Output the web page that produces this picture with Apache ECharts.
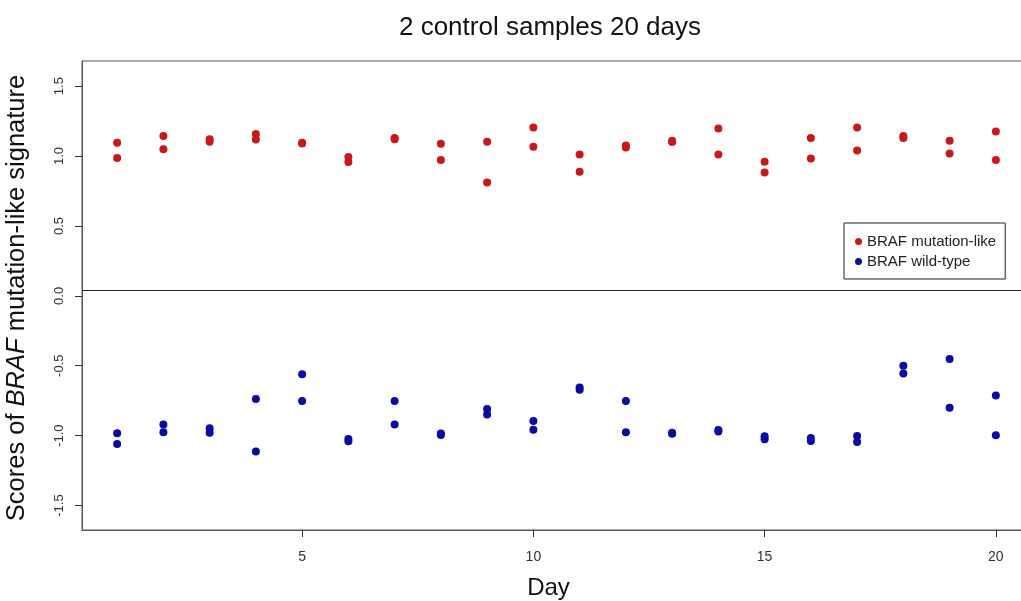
<!DOCTYPE html>
<html>
<head>
<meta charset="utf-8">
<script src="https://cdn.jsdelivr.net/npm/echarts@6/dist/echarts.min.js"></script>
<style>html,body{margin:0;padding:0;background:#fff}#c{width:1021px;height:601px}</style>
</head>
<body>
<div id="c"></div>
<script>
const days = [1,2,3,4,5,6,7,8,9,10,11,12,13,14,15,16,17,18,19,20];
const mutationA = [1.095,1.143,1.120,1.157,1.095,0.993,1.130,1.088,1.102,1.205,1.012,1.075,1.110,1.198,0.960,1.129,1.205,1.143,1.110,1.176];
const mutationB = [0.986,1.048,1.102,1.119,1.090,0.957,1.120,0.971,0.810,1.067,0.888,1.062,1.100,1.012,0.883,0.983,1.040,1.130,1.019,0.971];
const wildA = [-0.983,-0.921,-0.948,-0.738,-0.560,-1.024,-0.752,-0.985,-0.810,-0.895,-0.655,-0.752,-0.980,-0.960,-1.005,-1.017,-1.002,-0.500,-0.452,-0.712];
const wildB = [-1.060,-0.976,-0.979,-1.114,-0.752,-1.040,-0.921,-0.995,-0.848,-0.957,-0.671,-0.976,-0.986,-0.971,-1.026,-1.038,-1.045,-0.555,-0.800,-0.998];
const yTicks = [-1.5,-1.0,-0.5,0.0,0.5,1.0,1.5];
const xTicks = [5,10,15,20];
const seriesNames = ['BRAF mutation-like','BRAF wild-type'];

const font = 'Liberation Sans, Arial, sans-serif';
const mutData = [];
const wildData = [];
days.forEach((d,i)=>{
  mutData.push([d, mutationA[i]]); mutData.push([d, mutationB[i]]);
  wildData.push([d, wildA[i]]); wildData.push([d, wildB[i]]);
});

const chart = echarts.init(document.getElementById('c'), null, {renderer:'canvas'});
chart.setOption({
  animation:false,
  backgroundColor:'#ffffff',
  title:{text:'2 control samples 20 days', left:545, top:10, textAlign:'center',
    textStyle:{fontFamily:font, fontSize:26, fontWeight:'normal', color:'#111'}},
  grid:{left:82, top:61, bottom:71, right:-10, show:true, borderColor:'#555', borderWidth:1,
    containLabel:false, outerBoundsMode:'none'},
  legend:{orient:'vertical', left:844, top:223, data:seriesNames,
    borderColor:'#222', borderWidth:1, padding:[11,9,10,11], itemGap:5,
    icon:'circle', itemWidth:7, itemHeight:7,
    textStyle:{fontFamily:font, fontSize:15, color:'#222'}},
  xAxis:{type:'value', min:0.24, max:20.76,
    name:'Day', nameLocation:'middle', nameGap:46,
    nameTextStyle:{fontFamily:font, fontSize:24, color:'#111', padding:[0,16,0,0]},
    axisLine:{show:true, onZero:false, lineStyle:{color:'#555'}},
    axisTick:{show:true, length:7, customValues:xTicks, lineStyle:{color:'#333'}},
    axisLabel:{customValues:xTicks, margin:20, fontFamily:font, fontSize:14, color:'#333'},
    splitLine:{show:false}},
  yAxis:{type:'value', min:-1.675, max:1.68,
    axisLine:{show:true, onZero:false, lineStyle:{color:'#555'}},
    axisTick:{show:true, length:7, customValues:yTicks, lineStyle:{color:'#333'}},
    axisLabel:{customValues:yTicks, rotate:90, margin:16, fontFamily:font, fontSize:13, color:'#333',
      formatter:v=>v.toFixed(1)},
    splitLine:{show:false}},
  graphic:[{type:'text', rotation:Math.PI/2, x:17, y:298,
    style:{rich:{n:{fontFamily:font, fontSize:25.5, fill:'#111'}, i:{fontFamily:font, fontSize:25.5, fontStyle:'italic', fill:'#111'}},
      text:'{n|Scores of }{i|BRAF}{n| mutation-like signature}', align:'center', verticalAlign:'middle'}}],
  series:[
    {name:seriesNames[0], type:'scatter', data:mutData, symbol:'circle', symbolSize:8,
      itemStyle:{color:'#c81818', opacity:1},
      markLine:{silent:true, symbol:'none', label:{show:false},
        lineStyle:{color:'#222', type:'solid', width:1}, data:[{yAxis:0.045}]}},
    {name:seriesNames[1], type:'scatter', data:wildData, symbol:'circle', symbolSize:8,
      itemStyle:{color:'#0a0aa6', opacity:1}}
  ]
});
</script>
</body>
</html>
